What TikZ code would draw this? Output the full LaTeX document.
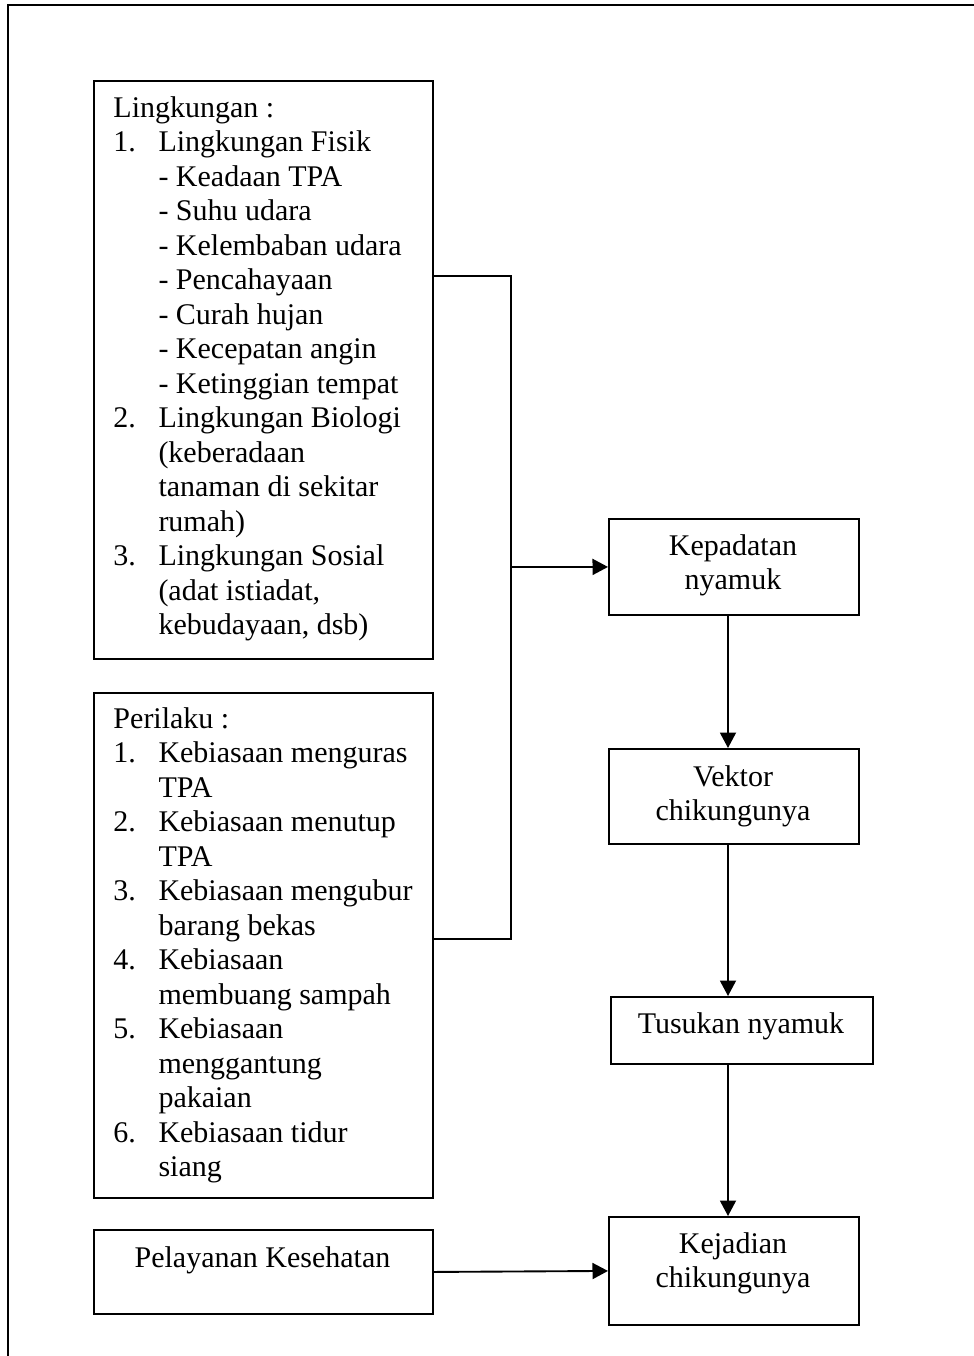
\documentclass[tikz,border=0pt]{standalone}
\usepackage{fontspec}
\setmainfont{Liberation Serif}
\usetikzlibrary{arrows.meta}
\begin{document}
\begin{tikzpicture}[x=0.4pt,y=-0.4pt,
  every node/.style={font=\fontsize{12}{13.8}\selectfont},
  box/.style={draw, line width=0.75pt, inner sep=0pt, anchor=north west},
  txt/.style={anchor=base west, inner sep=0pt},
  ctxt/.style={anchor=base, inner sep=0pt},
  conn/.style={line width=0.75pt},
  arr/.style={line width=0.75pt, -{Triangle[length=6.2pt,width=6.4pt]}}]
\useasboundingbox (0,0) rectangle (974,1356);
% outer frame (left and top only)
\coordinate (fb) at (8,1356);
\coordinate (fc) at (8,5);
\coordinate (fr) at (974,5);
\draw[line width=0.8pt] (fb) -- (fc) -- (fr);

% boxes
\node[box, minimum width=135.6pt, minimum height=231.2pt] (L) at (93,80) {};
\node[box, minimum width=135.6pt, minimum height=202pt] (P) at (93,692) {};
\node[box, minimum width=135.6pt, minimum height=33.6pt] (PK) at (93,1229) {};
\node[box, minimum width=100pt, minimum height=38.4pt] (kep) at (608,518) {};
\node[box, minimum width=100pt, minimum height=38pt] (vek) at (608,748) {};
\node[box, minimum width=104.8pt, minimum height=26.8pt] (tus) at (610,996) {};
\node[box, minimum width=100pt, minimum height=43.2pt] (kej) at (608,1216) {};

% texts
\node[txt] (Ltxt) at (113,117) {\parbox[t]{140pt}{\raggedright
Lingkungan :\\
\makebox[18pt][l]{1.}Lingkungan Fisik\\
\hspace*{18pt}- Keadaan TPA\\
\hspace*{18pt}- Suhu udara\\
\hspace*{18pt}- Kelembaban udara\\
\hspace*{18pt}- Pencahayaan\\
\hspace*{18pt}- Curah hujan\\
\hspace*{18pt}- Kecepatan angin\\
\hspace*{18pt}- Ketinggian tempat\\
\makebox[18pt][l]{2.}Lingkungan Biologi\\
\hspace*{18pt}(keberadaan\\
\hspace*{18pt}tanaman di sekitar\\
\hspace*{18pt}rumah)\\
\makebox[18pt][l]{3.}Lingkungan Sosial\\
\hspace*{18pt}(adat istiadat,\\
\hspace*{18pt}kebudayaan, dsb)}};

\node[txt] (Ptxt) at (113,728) {\parbox[t]{140pt}{\raggedright
Perilaku :\\
\makebox[18pt][l]{1.}Kebiasaan menguras\\
\hspace*{18pt}TPA\\
\makebox[18pt][l]{2.}Kebiasaan menutup\\
\hspace*{18pt}TPA\\
\makebox[18pt][l]{3.}Kebiasaan mengubur\\
\hspace*{18pt}barang bekas\\
\makebox[18pt][l]{4.}Kebiasaan\\
\hspace*{18pt}membuang sampah\\
\makebox[18pt][l]{5.}Kebiasaan\\
\hspace*{18pt}menggantung\\
\hspace*{18pt}pakaian\\
\makebox[18pt][l]{6.}Kebiasaan tidur\\
\hspace*{18pt}siang}};

\node[ctxt] (PKtxt) at (262.5,1267) {Pelayanan Kesehatan};
\node[ctxt] (keptxt) at (733,555) {\parbox[t]{100pt}{\centering Kepadatan\\nyamuk}};
\node[ctxt] (vektxt) at (733,786) {\parbox[t]{100pt}{\centering Vektor\\chikungunya}};
\node[ctxt] (tustxt) at (741,1033) {Tusukan nyamuk};
\node[ctxt] (kejtxt) at (733,1253) {\parbox[t]{100pt}{\centering Kejadian\\chikungunya}};

% connectors
\coordinate (ja) at (511,276);
\coordinate (jb) at (511,939);
\coordinate (jm) at (511,567);
\coordinate (ax) at (728,0);
\draw[conn] (L.east |- ja) -- (ja) -- (jb) -- (P.east |- jb);
\draw[arr] (jm) -- (kep.west);
\draw[arr] (kep.south -| ax) -- (vek.north -| ax);
\draw[arr] (vek.south -| ax) -- (tus.north -| ax);
\draw[arr] (tus.south -| ax) -- (kej.north -| ax);
\draw[arr] (PK.east) -- (kej.west);
\end{tikzpicture}
\end{document}
